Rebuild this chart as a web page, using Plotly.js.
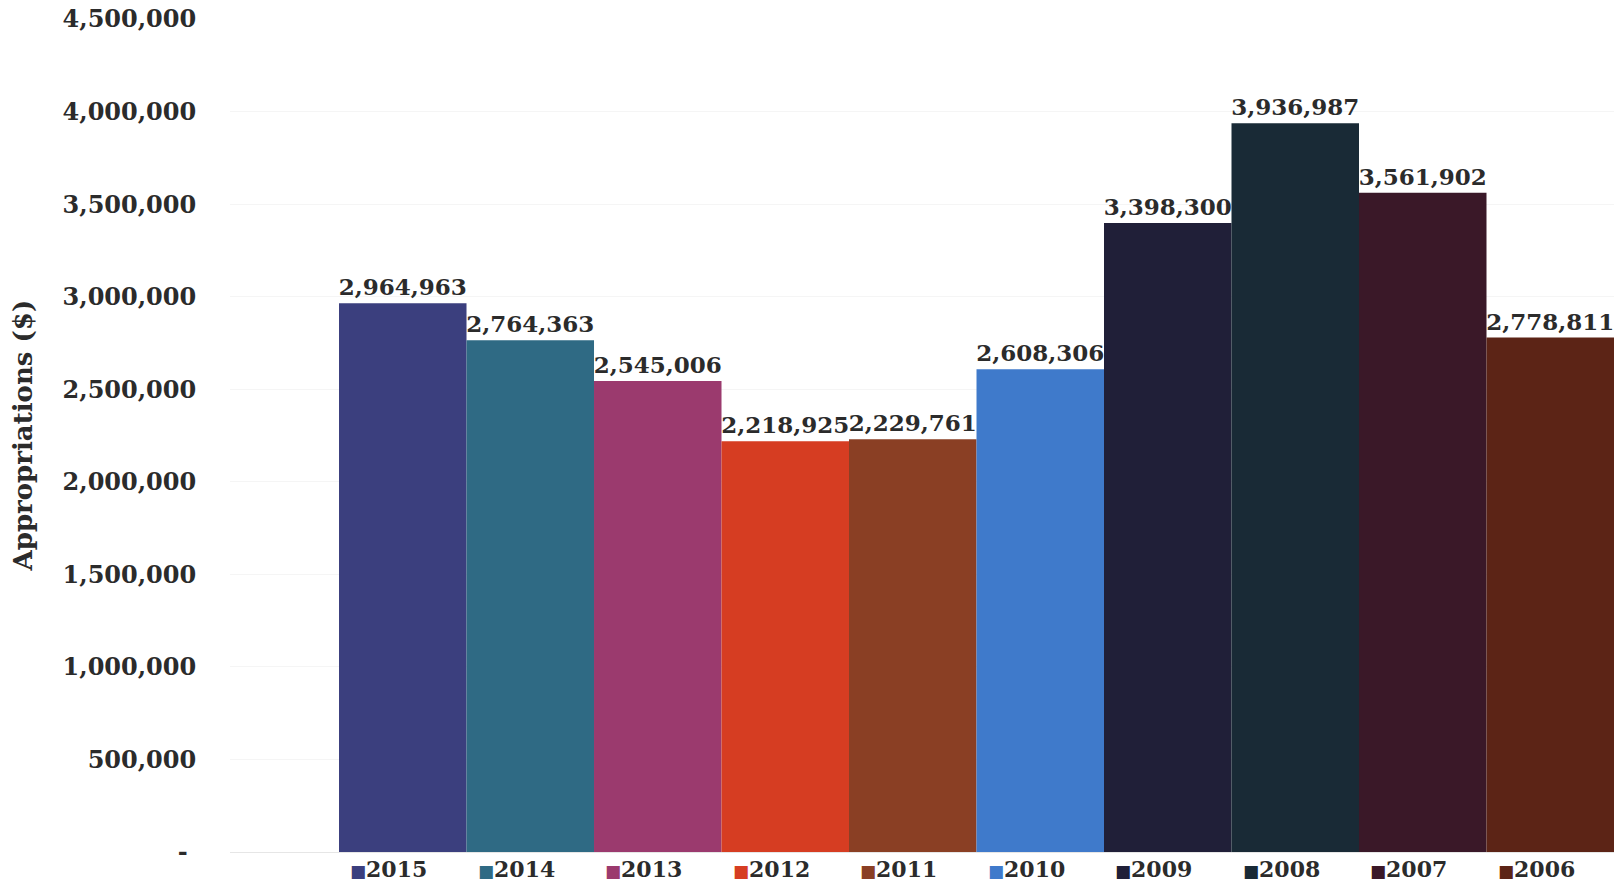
<!DOCTYPE html>
<html>
<head>
<meta charset="utf-8">
<script src="https://cdn.plot.ly/plotly-3.0.1.min.js"></script>
<style>html,body{margin:0;padding:0;background:#fff;}#chart{width:1617px;height:883px;}</style>
</head>
<body>
<div id="chart"></div>
<script>
const years = ['2015','2014','2013','2012','2011','2010','2009','2008','2007','2006'];
const appropriations = [2964963, 2764363, 2545006, 2218925, 2229761, 2608306, 3398300, 3936987, 3561902, 2778811];
const barColors = ['#3b3f7e','#2f6a84','#9b3a6e','#d63d22','#8a3f24','#3f7acb','#201f38','#192a36','#3a1828','#5c2416'];
const yTickVals = [0, 500000, 1000000, 1500000, 2000000, 2500000, 3000000, 3500000, 4000000, 4500000];
const yTickText = ['-\u00a0', '500,000', '1,000,000', '1,500,000', '2,000,000', '2,500,000', '3,000,000', '3,500,000', '4,000,000', '4,500,000'];
const yTitle = 'Appropriations ($)';

const FONT = 'DejaVu Serif';
const TXT = '#2b2b2b';
const traces = years.map((yr, i) => ({
  type: 'bar',
  name: yr,
  x: [i],
  y: [appropriations[i]],
  width: [1],
  marker: {color: barColors[i], line: {width: 0}},
  text: [appropriations[i].toLocaleString('en-US')],
  textposition: 'outside',
  constraintext: 'none',
  cliponaxis: false,
  textfont: {family: FONT, size: 23, color: TXT, weight: 'bold'},
  hoverinfo: 'skip',
  showlegend: false
}));

// Legend entries drawn beneath each bar
const legendAnnotations = years.map((yr, i) => ({
  xref: 'x', yref: 'paper', x: i - 0.5, y: -0.021,
  xanchor: 'left', yanchor: 'middle', xshift: 9,
  showarrow: false,
  text: '<span style="color:' + barColors[i] + ';font-size:17px">\u25A0</span>' + yr,
  font: {family: FONT, size: 22, color: TXT, weight: 'bold'}
}));

const titleAnnotation = {
  xref: 'paper', yref: 'paper', x: -0.1496, y: 0.5,
  xanchor: 'center', yanchor: 'middle', textangle: -90, showarrow: false,
  text: yTitle,
  font: {family: FONT, size: 26, color: TXT, weight: 'bold'}
};

const layout = {
  width: 1617, height: 883,
  margin: {l: 230, r: 3, t: 19, b: 31, pad: 0},
  paper_bgcolor: '#ffffff', plot_bgcolor: '#ffffff',
  font: {family: FONT, color: TXT, weight: 'bold'},
  barmode: 'overlay',
  showlegend: false,
  annotations: legendAnnotations.concat([titleAnnotation]),
  xaxis: {
    range: [-1.355, 9.5], showticklabels: false, showgrid: false, zeroline: false,
    showline: false, ticks: '', fixedrange: true
  },
  yaxis: {
    range: [0, 4500000], tickvals: yTickVals, ticktext: yTickText,
    tickfont: {family: FONT, size: 24, color: TXT, weight: 'bold'},
    ticks: 'outside', ticklen: 28, tickcolor: 'rgba(0,0,0,0)',
    showgrid: true, gridcolor: '#f5f5f5', gridwidth: 1,
    zeroline: true, zerolinecolor: '#e6e6e6', showline: false,
    automargin: false
  }
};

Plotly.newPlot('chart', traces, layout, {displayModeBar: false, staticPlot: true});
</script>
</body>
</html>
